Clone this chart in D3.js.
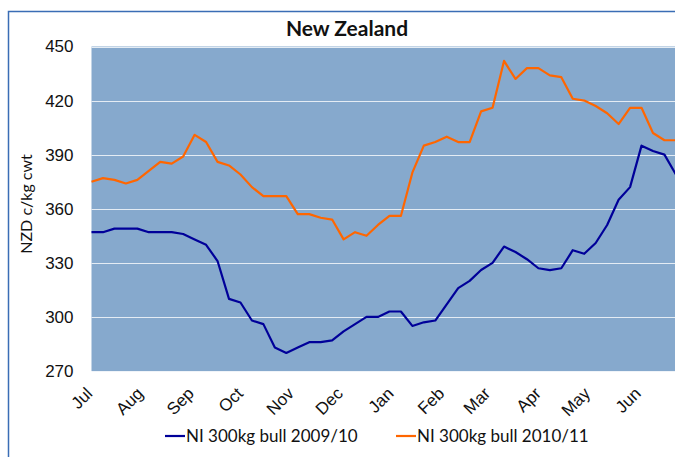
<!DOCTYPE html>
<html>
<head>
<meta charset="utf-8">
<script src="https://cdn.jsdelivr.net/npm/d3@7"></script>
<style>
    body { margin: 0; background: #fff; }
    svg { display: block; font-family: Lato, "Open Sans", sans-serif; }
    .tick-label { font-size: 17px; fill: #111; }
</style>
</head>
<body>
<div id="chart"></div>
<script>
// 数据：每周一个点，从7月初开始
const months = ['Jul', 'Aug', 'Sep', 'Oct', 'Nov', 'Dec', 'Jan', 'Feb', 'Mar', 'Apr', 'May', 'Jun'];
const yTicks = [270, 300, 330, 360, 390, 420, 450];
const seriesNames = ['NI 300kg bull 2009/10', 'NI 300kg bull 2010/11'];
const bull2009 = [347, 347, 349, 349, 349, 347, 347, 347, 346, 343, 340, 331, 310, 308, 298, 296,
    283, 280, 283, 286, 286, 287, 292, 296, 300, 300, 303, 303, 295, 297, 298, 307,
    316, 320, 326, 330, 339, 336, 332, 327, 326, 327, 337, 335, 341, 351, 365, 372,
    395, 392, 390, 379];
const bull2010 = [375, 377, 376, 374, 376, 381, 386, 385, 389, 401, 397, 386, 384, 379, 372, 367,
    367, 367, 357, 357, 355, 354, 343, 347, 345, 351, 356, 356, 380, 395, 397, 400,
    397, 397, 414, 416, 442, 432, 438, 438, 434, 433, 421, 420, 417, 413, 407, 416,
    416, 402, 398, 398];

(function() {
    const width = 675;
    const height = 457;
    const plot = { left: 91.5, top: 46.5, right: 689, bottom: 371 };
    const colors = ['#000099', '#ff6600'];

    const seasonStart = new Date(2009, 6, 1);
    const weekDate = i => d3.timeDay.offset(seasonStart, i * 7);

    const svg = d3.select('#chart').append('svg')
        .attr('width', width)
        .attr('height', height);

    // 图表外框（右侧和底部超出画面）
    svg.append('rect')
        .attr('x', 8.5)
        .attr('y', 11.5)
        .attr('width', 800)
        .attr('height', 600)
        .attr('fill', '#fff')
        .attr('stroke', '#3a6db5')
        .attr('stroke-width', 1.5);

    const x = d3.scaleTime()
        .domain([seasonStart, new Date(2010, 6, 1)])
        .range([plot.left, plot.right]);

    const y = d3.scaleLinear()
        .domain([270, 450])
        .range([plot.bottom, plot.top]);

    // 绘图区背景
    svg.append('rect')
        .attr('x', plot.left)
        .attr('y', plot.top)
        .attr('width', plot.right - plot.left)
        .attr('height', plot.bottom - plot.top)
        .attr('fill', '#86a9cd');

    // 网格线
    svg.append('g')
        .selectAll('line')
        .data(yTicks)
        .enter().append('line')
        .attr('x1', plot.left)
        .attr('x2', plot.right)
        .attr('y1', d => Math.round(y(d)) + 0.5)
        .attr('y2', d => Math.round(y(d)) + 0.5)
        .attr('stroke', '#eef3f8')
        .attr('stroke-opacity', 0.9)
        .attr('stroke-width', 1.2);

    // y 轴
    const yAxis = svg.append('g')
        .attr('transform', `translate(${plot.left},0)`)
        .call(d3.axisLeft(y).tickValues(yTicks).tickSize(0).tickPadding(18));
    yAxis.select('.domain').remove();
    yAxis.selectAll('text')
        .attr('class', 'tick-label')
        .attr('font-family', null)
        .attr('font-size', null);

    // x 轴：月份标签旋转45度
    const xAxis = svg.append('g')
        .attr('transform', `translate(0,${plot.bottom})`)
        .call(d3.axisBottom(x)
            .ticks(d3.timeMonth.every(1))
            .tickSize(0)
            .tickFormat((d, i) => months[i]));
    xAxis.select('.domain').remove();
    xAxis.selectAll('.tick').filter((d, i) => i >= months.length).remove();
    xAxis.selectAll('text')
        .attr('class', 'tick-label')
        .attr('font-size', null)
        .attr('font-family', null)
        .attr('text-anchor', 'end')
        .attr('x', 0)
        .attr('y', 0)
        .attr('dy', '0.71em')
        .attr('transform', 'translate(-7,15) rotate(-45)');

    // 折线
    const line = d3.line()
        .x((d, i) => x(weekDate(i)))
        .y(d => y(d));

    svg.append('g')
        .selectAll('path')
        .data([bull2009, bull2010])
        .enter().append('path')
        .attr('d', line)
        .attr('fill', 'none')
        .attr('stroke', (d, i) => colors[i])
        .attr('stroke-width', 2.2)
        .attr('stroke-linejoin', 'round');

    // 标题
    svg.append('text')
        .attr('x', 347)
        .attr('y', 36)
        .attr('text-anchor', 'middle')
        .attr('font-size', 21)
        .attr('font-weight', 'bold')
        .attr('fill', '#111')
        .text('New Zealand');

    // y 轴标题
    svg.append('text')
        .attr('transform', 'translate(32,204) rotate(-90)')
        .attr('text-anchor', 'middle')
        .attr('font-size', 16)
        .attr('fill', '#111')
        .text('NZD c/kg cwt');

    // 图例
    const legendX = [165, 396];
    const legend = svg.append('g')
        .selectAll('g')
        .data(seriesNames)
        .enter().append('g')
        .attr('transform', (d, i) => `translate(${legendX[i]},436)`);

    legend.append('line')
        .attr('x1', 0)
        .attr('x2', 20)
        .attr('stroke', (d, i) => colors[i])
        .attr('stroke-width', 2.2);

    legend.append('text')
        .attr('x', 21)
        .attr('dy', '0.35em')
        .attr('class', 'tick-label')
        .text(d => d);
})();
</script>
</body>
</html>
